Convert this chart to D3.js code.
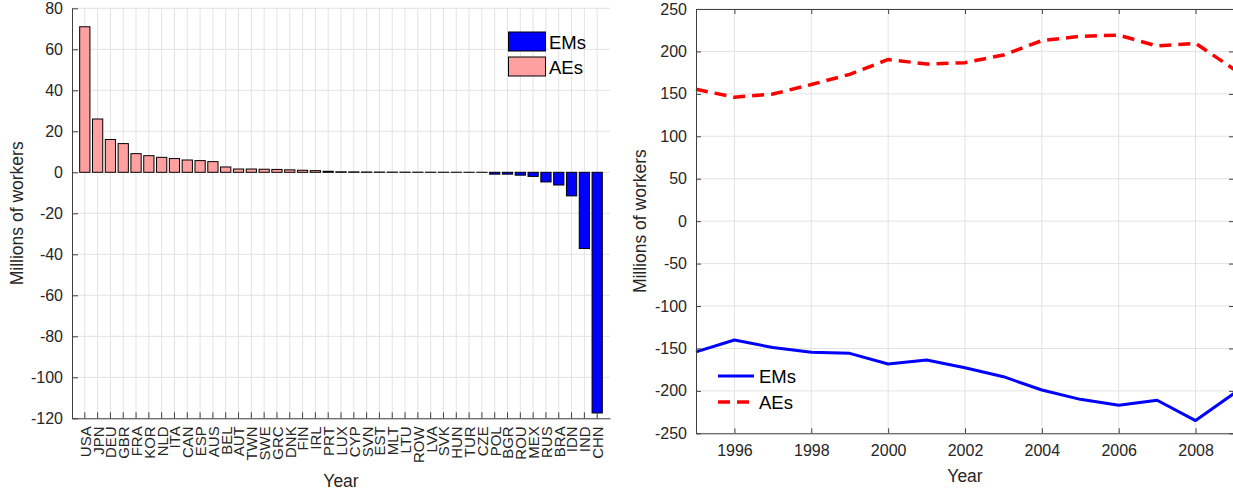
<!DOCTYPE html>
<html>
<head>
<meta charset="utf-8">
<script src="https://cdn.jsdelivr.net/npm/d3@7"></script>
<style>
  html, body { margin: 0; padding: 0; background: #fff; }
  svg { display: block; font-family: "Liberation Sans", Arial, sans-serif; }
</style>
</head>
<body>
<svg id="chart" width="1233" height="493"></svg>
<script>
// Net labour content of trade by economy (millions of workers)
const countries = ["USA","JPN","DEU","GBR","FRA","KOR","NLD","ITA","CAN","ESP","AUS","BEL","AUT","TWN","SWE","GRC","DNK","FIN","IRL","PRT","LUX","CYP","SVN","EST","MLT","LTU","ROW","LVA","SVK","HUN","TUR","CZE","POL","BGR","ROU","MEX","RUS","BRA","IDN","IND","CHN"];
const countryValues = [71, 26, 16, 14, 9.1, 8.1, 7.3, 6.7, 6.0, 5.7, 5.2, 2.6, 1.6, 1.6, 1.5, 1.4, 1.2, 1.0, 0.8, 0.5, 0.25, 0.2, 0.15, 0.12, 0.1, 0.08, 0.06, 0.05, 0.04, 0.03, 0.02, 0.01, -0.9, -0.9, -1.4, -2.0, -4.7, -6.2, -11.5, -37.2, -117.4];
const countryGroup = ["AEs","AEs","AEs","AEs","AEs","AEs","AEs","AEs","AEs","AEs","AEs","AEs","AEs","AEs","AEs","AEs","AEs","AEs","AEs","AEs","AEs","AEs","AEs","AEs","AEs","AEs","AEs","AEs","AEs","AEs","AEs","AEs","EMs","EMs","EMs","EMs","EMs","EMs","EMs","EMs","EMs"];
const leftTicks = [-120, -100, -80, -60, -40, -20, 0, 20, 40, 60, 80];

// Aggregate series over time
const years = [1995,1996,1997,1998,1999,2000,2001,2002,2003,2004,2005,2006,2007,2008,2009];
const emsSeries = [-154, -140, -149, -154.6, -155.8, -168.3, -163.6, -172.7, -183.3, -199, -210, -217, -211, -235, -203];
const aesSeries = [155.4, 146, 149.8, 161, 173, 190.5, 185.2, 186.8, 195.8, 212.7, 217.8, 219.2, 206.4, 209.6, 179];
const rightTicks = [-250, -200, -150, -100, -50, 0, 50, 100, 150, 200, 250];
const yearTicks = [1996, 1998, 2000, 2002, 2004, 2006, 2008];

const groupColor = { EMs: "#0000ff", AEs: "#ffa0a0" };
const axisColor = "#404040";
const gridColor = "#e3e3e3";
const textColor = "#262626";
const plainNumber = d => String(d);   // hyphen-minus for negatives

const svg = d3.select("#chart");

// ---------- Left panel: bars by economy ----------
const L = { left: 72, right: 610, top: 8.3, bottom: 418.3 };
const xb = d3.scaleBand().domain(countries).range([L.left, L.right]).paddingInner(0.2).paddingOuter(0.6);
const yl = d3.scaleLinear().domain([-120, 80]).range([L.bottom, L.top]);
const lg = svg.append("g");

// grid
lg.append("g").selectAll("line.v").data(countries).join("line")
  .attr("x1", d => xb(d) + xb.bandwidth() / 2).attr("x2", d => xb(d) + xb.bandwidth() / 2)
  .attr("y1", L.top).attr("y2", L.bottom)
  .attr("stroke", gridColor).attr("stroke-width", 1);
lg.append("g").selectAll("line.h").data(leftTicks).join("line")
  .attr("x1", L.left).attr("x2", L.right)
  .attr("y1", d => yl(d)).attr("y2", d => yl(d))
  .attr("stroke", gridColor).attr("stroke-width", 1);

// bars
lg.append("g").selectAll("rect").data(countries).join("rect")
  .attr("x", d => xb(d))
  .attr("width", xb.bandwidth())
  .attr("y", (d, i) => yl(Math.max(0, countryValues[i])))
  .attr("height", (d, i) => Math.abs(yl(countryValues[i]) - yl(0)))
  .attr("fill", (d, i) => groupColor[countryGroup[i]])
  .attr("stroke", "#000").attr("stroke-width", 1);

// axes
const lxAxis = lg.append("g").attr("transform", `translate(0,${L.bottom})`)
  .call(d3.axisBottom(xb).tickSizeInner(-6).tickSizeOuter(0).tickFormat(""));
lxAxis.select(".domain").attr("stroke", axisColor);
lxAxis.selectAll(".tick line").attr("stroke", axisColor);
lg.append("g").selectAll("text.xl").data(countries).join("text")
  .attr("transform", d => `translate(${xb(d) + xb.bandwidth() / 2 + 0.5},${L.bottom + 8}) rotate(-90)`)
  .attr("text-anchor", "end").attr("dy", "0.36em")
  .attr("font-size", 15).attr("fill", textColor)
  .text(d => d);

const lyAxis = lg.append("g").attr("transform", `translate(${L.left},0)`)
  .call(d3.axisLeft(yl).tickValues(leftTicks).tickFormat(plainNumber).tickSizeInner(-6).tickSizeOuter(0).tickPadding(9));
lyAxis.select(".domain").attr("stroke", axisColor);
lyAxis.selectAll(".tick line").attr("stroke", axisColor);
lyAxis.selectAll(".tick text").attr("font-size", 16).attr("fill", textColor).attr("font-family", null);

lg.append("text").attr("x", 341).attr("y", 487).attr("text-anchor", "middle")
  .attr("font-size", 17.5).attr("fill", textColor).text("Year");
lg.append("text").attr("transform", `translate(23,${(L.top + L.bottom) / 2}) rotate(-90)`)
  .attr("text-anchor", "middle").attr("font-size", 17.5).attr("fill", textColor).text("Millions of workers");

// legend
const legendItems = ["EMs", "AEs"];
const lgd = lg.append("g");
legendItems.forEach((k, i) => {
  const y0 = 32 + i * 25;
  lgd.append("rect").attr("x", 508.5).attr("y", y0).attr("width", 37).attr("height", 19)
    .attr("fill", groupColor[k]).attr("stroke", "#000").attr("stroke-width", 1);
  lgd.append("text").attr("x", 549).attr("y", y0 + 10).attr("dy", "0.36em")
    .attr("font-size", 18.5).attr("fill", "#000").text(k);
});

// ---------- Right panel: aggregate time series ----------
const R = { left: 696, right: 1234, top: 9, bottom: 433.3 };
const xr = d3.scaleLinear().domain([1995, 2009]).range([R.left, R.right]);
const yr = d3.scaleLinear().domain([-250, 250]).range([R.bottom, R.top]);
const rg = svg.append("g");

rg.append("g").selectAll("line").data(yearTicks).join("line")
  .attr("x1", d => xr(d)).attr("x2", d => xr(d)).attr("y1", R.top).attr("y2", R.bottom)
  .attr("stroke", gridColor);
rg.append("g").selectAll("line").data(rightTicks).join("line")
  .attr("x1", R.left).attr("x2", R.right).attr("y1", d => yr(d)).attr("y2", d => yr(d))
  .attr("stroke", gridColor);

const line = d3.line().x((d, i) => xr(years[i])).y(d => yr(d));
rg.append("path").datum(emsSeries).attr("d", line)
  .attr("fill", "none").attr("stroke", "#0000ff").attr("stroke-width", 3).attr("stroke-linejoin", "round");
rg.append("path").datum(aesSeries).attr("d", line)
  .attr("fill", "none").attr("stroke", "#ff0000").attr("stroke-width", 3.5)
  .attr("stroke-dasharray", "12,7");

// box axes
const rxAxis = rg.append("g").attr("transform", `translate(0,${R.bottom})`)
  .call(d3.axisBottom(xr).tickValues(yearTicks).tickFormat(d3.format("d")).tickSizeInner(-5).tickSizeOuter(0).tickPadding(11));
const rxTop = rg.append("g").attr("transform", `translate(0,${R.top})`)
  .call(d3.axisTop(xr).tickValues(yearTicks).tickFormat("").tickSizeInner(-5).tickSizeOuter(0));
const ryAxis = rg.append("g").attr("transform", `translate(${R.left},0)`)
  .call(d3.axisLeft(yr).tickValues(rightTicks).tickFormat(plainNumber).tickSizeInner(-5).tickSizeOuter(0).tickPadding(9));
const ryRight = rg.append("g").attr("transform", `translate(${R.right},0)`)
  .call(d3.axisRight(yr).tickValues(rightTicks).tickFormat("").tickSizeInner(-5).tickSizeOuter(0));
[rxAxis, rxTop, ryAxis, ryRight].forEach(a => {
  a.select(".domain").attr("stroke", axisColor);
  a.selectAll(".tick line").attr("stroke", axisColor);
  a.selectAll(".tick text").attr("font-size", 16).attr("fill", textColor).attr("font-family", null);
});

rg.append("text").attr("x", 965).attr("y", 482).attr("text-anchor", "middle")
  .attr("font-size", 17.5).attr("fill", textColor).text("Year");
rg.append("text").attr("transform", `translate(646,${(R.top + R.bottom) / 2}) rotate(-90)`)
  .attr("text-anchor", "middle").attr("font-size", 17.5).attr("fill", textColor).text("Millions of workers");

// line legend
const lineLegend = [{ k: "EMs", c: "#0000ff", dash: null }, { k: "AEs", c: "#ff0000", dash: "12,7" }];
lineLegend.forEach((d, i) => {
  const y0 = 376 + i * 26;
  rg.append("line").attr("x1", 718).attr("x2", 754).attr("y1", y0).attr("y2", y0)
    .attr("stroke", d.c).attr("stroke-width", d.dash ? 3.5 : 3).attr("stroke-dasharray", d.dash);
  rg.append("text").attr("x", 759).attr("y", y0).attr("dy", "0.36em")
    .attr("font-size", 18.5).attr("fill", "#000").text(d.k);
});
</script>
</body>
</html>
